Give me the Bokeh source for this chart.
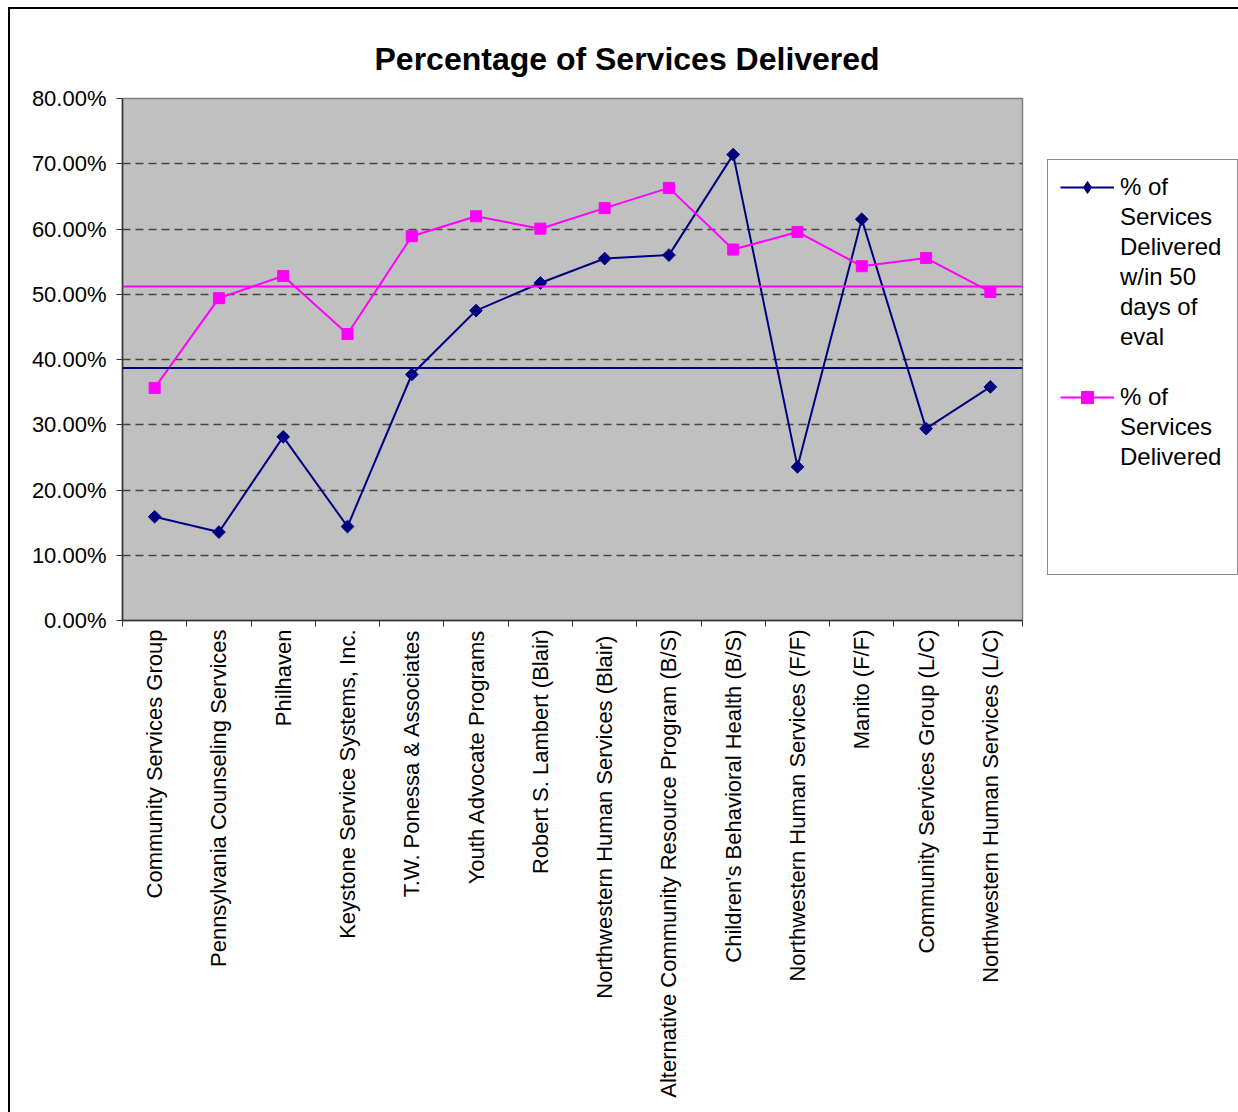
import math
from bokeh.plotting import figure
from bokeh.models import (FixedTicker, NumeralTickFormatter, Span, Legend, LegendItem,
                          Range1d, ColumnDataSource, Title)
from bokeh.embed import file_html
from bokeh.resources import INLINE

# ---------------- data ----------------
title_text = "Percentage of Services Delivered"
providers = [
    "Community Services Group",
    "Pennsylvania Counseling Services",
    "Philhaven",
    "Keystone Service Systems, Inc.",
    "T.W. Ponessa & Associates",
    "Youth Advocate Programs",
    "Robert S. Lambert (Blair)",
    "Northwestern Human Services  (Blair)",
    "Alternative Community Resource Program (B/S)",
    "Children's Behavioral Health (B/S)",
    "Northwestern Human Services (F/F)",
    "Manito (F/F)",
    "Community Services Group (L/C)",
    "Northwestern Human Services (L/C)",
]
within_50_days = [0.159, 0.1355, 0.2815, 0.144, 0.377, 0.475, 0.5173, 0.5547,
                  0.560, 0.714, 0.2355, 0.615, 0.294, 0.358]
delivered = [0.3565, 0.494, 0.528, 0.439, 0.589, 0.6195, 0.6005, 0.632,
             0.663, 0.5685, 0.5955, 0.543, 0.5555, 0.5035]
avg_within_50 = 0.387
avg_delivered = 0.512
legend_lines_within = ["% of", "Services", "Delivered", "w/in 50", "days of", "eval"]
legend_lines_delivered = ["% of", "Services", "Delivered"]
y_ticks = [0.0, 0.1, 0.2, 0.3, 0.4, 0.5, 0.6, 0.7, 0.8]

NAVY = "#000080"
MAGENTA = "#FF00FF"
FONT = "Liberation Sans"

n = len(providers)
x_centers = [i + 0.5 for i in range(n)]
x_bounds = [float(i) for i in range(n + 1)]

src = ColumnDataSource(dict(x=x_centers, within=within_50_days, delivered=delivered))

p = figure(frame_width=900, frame_height=522, x_range=Range1d(0, n), y_range=Range1d(0, 0.8),
           output_backend="svg", toolbar_location=None,
           background_fill_color="#C0C0C0", border_fill_color="white",
           min_border_left=122, min_border_right=216, min_border_top=98,
           min_border_bottom=492)
p.outline_line_color = "#808080"
p.outline_line_width = 1.5

# outer chart border (left / top / right edges, drawn with CSS)
p.stylesheets = [
    ":host { position: relative; }",
    ":host::after { content: ''; position: absolute; left: 8px; top: 7px; right: 0px; "
    "bottom: 0px; box-sizing: border-box; border-left: 2px solid black; "
    "border-top: 2px solid black; border-right: 1px solid #808080; "
    "pointer-events: none; z-index: 5; }",
]

p.title = Title(text=title_text, align="left", offset=252, standoff=44,
                text_font=FONT, text_font_size="32px", text_font_style="bold",
                text_color="black")

# grid
p.xgrid.visible = False
p.ygrid.ticker = FixedTicker(ticks=y_ticks[1:-1])
p.ygrid.grid_line_color = "#444444"
p.ygrid.grid_line_dash = "8 5"
p.ygrid.grid_line_width = 1.5

# y axis
p.yaxis.ticker = FixedTicker(ticks=y_ticks, minor_ticks=[])
p.yaxis.formatter = NumeralTickFormatter(format="0.00%")
p.yaxis.major_tick_out = 6
p.yaxis.major_tick_in = 0
p.yaxis.axis_line_color = "#333333"
p.yaxis.axis_line_width = 1.5
p.yaxis.major_tick_line_color = "#333333"
p.yaxis.major_label_text_font = FONT
p.yaxis.major_label_text_font_size = "22px"
p.yaxis.major_label_text_color = "black"
p.yaxis.major_label_standoff = 10

# x axis
p.xaxis.ticker = FixedTicker(ticks=x_centers, minor_ticks=x_bounds)
p.xaxis.major_label_overrides = {xc: name for xc, name in zip(x_centers, providers)}
p.xaxis.major_tick_out = 0
p.xaxis.major_tick_in = 0
p.xaxis.minor_tick_out = 6
p.xaxis.minor_tick_in = 0
p.xaxis.minor_tick_line_color = "#333333"
p.xaxis.axis_line_color = "#333333"
p.xaxis.axis_line_width = 1.5
p.xaxis.major_label_orientation = math.pi / 2
p.xaxis.major_label_text_font = FONT
p.xaxis.major_label_text_font_size = "22px"
p.xaxis.major_label_text_color = "black"
p.xaxis.major_label_standoff = 3

# average lines
p.add_layout(Span(location=avg_within_50, dimension="width", line_color=NAVY, line_width=2))
p.add_layout(Span(location=avg_delivered, dimension="width", line_color=MAGENTA, line_width=2))

# series
l1 = p.line("x", "within", source=src, line_color=NAVY, line_width=2)
s1 = p.scatter("x", "within", source=src, marker="square", angle=math.pi / 4, size=9,
               fill_color=NAVY, line_color=NAVY)
l2 = p.line("x", "delivered", source=src, line_color=MAGENTA, line_width=2)
s2 = p.scatter("x", "delivered", source=src, marker="square", size=11,
               fill_color=MAGENTA, line_color=MAGENTA)
# diamond marker used only for the legend swatch (hidden in the plot area)
s1_key = p.scatter("x", "within", source=src, marker="diamond", size=13,
                   fill_color=NAVY, line_color=NAVY, visible=False)
# invisible renderer used for the text-only legend rows
blank = p.line("x", "within", source=src, line_alpha=0)

items = [LegendItem(label=legend_lines_within[0], renderers=[l1, s1_key])]
items += [LegendItem(label=t, renderers=[blank]) for t in legend_lines_within[1:]]
items += [LegendItem(label=" ", renderers=[blank])]
items += [LegendItem(label=legend_lines_delivered[0], renderers=[l2, s2])]
items += [LegendItem(label=t, renderers=[blank]) for t in legend_lines_delivered[1:]]
items += [LegendItem(label=" ", renderers=[blank]) for _ in range(3)]

legend = Legend(items=items, location=(25, 45), glyph_width=54, glyph_height=30,
                label_height=30, label_width=105, label_standoff=6,
                label_text_font=FONT, label_text_font_size="24px",
                label_text_color="black",
                padding=12, margin=0, spacing=0,
                border_line_color="#1a1a1a", border_line_width=1,
                background_fill_color="white", background_fill_alpha=1.0)
p.add_layout(legend, "right")

open("out.html", "w").write(file_html(p, INLINE))
